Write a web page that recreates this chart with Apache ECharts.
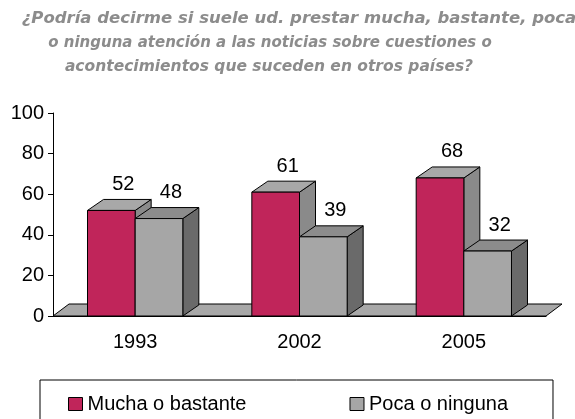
<!DOCTYPE html>
<html>
<head>
<meta charset="utf-8">
<script src="https://cdn.jsdelivr.net/npm/echarts@6/dist/echarts.min.js"></script>
<style>
  html, body { margin: 0; padding: 0; background: #fff; }
  #chart { width: 575px; height: 419px; }
</style>
</head>
<body>
<div id="chart"></div>
<script>
const titleLines = [
    "¿Podría decirme si suele ud. prestar mucha, bastante, poca",
    "o ninguna atención a las noticias sobre cuestiones o",
    "acontecimientos que suceden en otros países?",
];
const categories = ["1993", "2002", "2005"];
const mucha = [52, 61, 68];
const poca = [48, 39, 32];
const yTicks = [0, 20, 40, 60, 80, 100];

const DX = 16;
const DY = -11;

const chart = echarts.init(document.getElementById("chart"));

// one 3D box (front, top, side) plus its value label
const renderBox = (side, colors) => (params, api) => {
    const idx = api.value(0);
    const val = api.value(1);
    const top = api.coord([idx, val]);
    const base = api.coord([idx, 0]);
    const band = api.size([1, 0])[0];
    const w = band * 0.29;
    const x0 = side === 0 ? top[0] - w : top[0];
    const x1 = x0 + w;
    const yt = top[1];
    const yb = base[1];
    const line = { stroke: "#000", lineWidth: 1 };
    return {
        type: "group",
        children: [
            {
                type: "polygon",
                shape: { points: [[x1, yb], [x1 + DX, yb + DY], [x1 + DX, yt + DY], [x1, yt]] },
                style: { fill: colors.side, ...line },
            },
            {
                type: "polygon",
                shape: { points: [[x0, yt], [x0 + DX, yt + DY], [x1 + DX, yt + DY], [x1, yt]] },
                style: { fill: colors.top, ...line },
            },
            {
                type: "rect",
                shape: { x: x0, y: yt, width: w, height: yb - yt },
                style: { fill: colors.front, ...line },
            },
            {
                type: "text",
                x: x0 + w / 2 + 12,
                y: yt + DY - 15,
                style: {
                    text: String(val),
                    fill: "#000",
                    font: "20px 'Liberation Sans', Arial, sans-serif",
                    textAlign: "center",
                    textVerticalAlign: "middle",
                },
            },
        ],
    };
};

const option = {
    animation: false,
    graphic: titleLines.map((t, i) => ({
        type: "text",
        x: [299, 270, 269][i],
        y: 19 + i * 24,
        style: {
            text: t,
            fill: "#8c8c8c",
            font: "italic bold " + [16.5, 15, 15.5][i] + "px 'DejaVu Sans', sans-serif",
            textAlign: "center",
            textVerticalAlign: "middle",
        },
    })),
    legend: {
        left: 40,
        top: 380,
        padding: [14, 45, 30, 28],
        itemGap: 103,
        itemWidth: 14,
        itemHeight: 13,
        borderColor: "#000",
        borderWidth: 1,
        icon: "rect",
        itemStyle: { borderColor: "#000", borderWidth: 1 },
        textStyle: { fontSize: 20, color: "#000", fontFamily: "'Liberation Sans', Arial, sans-serif" },
        data: ["Mucha o bastante", "Poca o ninguna"],
    },
    grid: { left: 53, right: 29, top: 113, bottom: 103 },
    xAxis: {
        type: "category",
        data: categories,
        axisLine: { lineStyle: { color: "#000" } },
        axisTick: { length: 5, lineStyle: { color: "#000" } },
        axisLabel: { margin: 16, fontSize: 20, color: "#000", fontFamily: "'Liberation Sans', Arial, sans-serif" },
    },
    yAxis: {
        type: "value",
        min: yTicks[0],
        max: yTicks[yTicks.length - 1],
        interval: 20,
        splitLine: { show: false },
        axisLine: { show: true, lineStyle: { color: "#000" } },
        axisTick: { show: true, length: 5, lineStyle: { color: "#000" } },
        axisLabel: { margin: 9, fontSize: 20, color: "#000", fontFamily: "'Liberation Sans', Arial, sans-serif" },
    },
    series: [
        {
            type: "custom",
            name: "floor",
            silent: true,
            z: 1,
            data: [[0, 0]],
            renderItem: (params, api) => {
                const cs = params.coordSys;
                const yb = cs.y + cs.height;
                const xl = cs.x;
                const xr = cs.x + cs.width;
                return {
                    type: "polygon",
                    shape: { points: [[xl, yb], [xl + DX, yb + DY - 1], [xr + DX, yb + DY - 1], [xr, yb]] },
                    style: { fill: "#a8a8a8", stroke: "#000", lineWidth: 1 },
                };
            },
        },
        {
            type: "custom",
            name: "Mucha o bastante",
            z: 2,
            itemStyle: { color: "#c0255a" },
            data: mucha.map((v, i) => [i, v]),
            renderItem: renderBox(0, { front: "#c0255a", top: "#a8a8a8", side: "#8a8a8a" }),
        },
        {
            type: "custom",
            name: "Poca o ninguna",
            z: 3,
            itemStyle: { color: "#a6a6a6" },
            data: poca.map((v, i) => [i, v]),
            renderItem: renderBox(1, { front: "#a6a6a6", top: "#8c8c8c", side: "#6a6a6a" }),
        },
    ],
};

chart.setOption(option);
</script>
</body>
</html>
